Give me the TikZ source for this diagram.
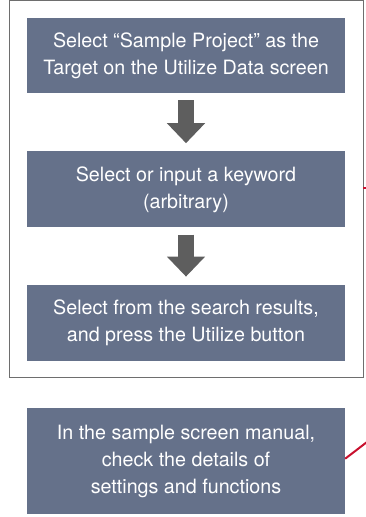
\documentclass[tikz,border=0pt]{standalone}
\usepackage{fontspec}
\setmainfont{TeX Gyre Heros}
\usetikzlibrary{positioning,arrows.meta}
\definecolor{boxblue}{HTML}{65718A}
\definecolor{arrowgray}{HTML}{5E5E5E}
\definecolor{framegray}{HTML}{6E6E6E}
\definecolor{linkred}{HTML}{C8102E}

\begin{document}
\begin{tikzpicture}[x=1pt, y=-1pt,
  every node/.style={font=\fontsize{19.7}{27}\selectfont},
  stepbox/.style={fill=boxblue, text=white, minimum width=318pt, minimum height=76pt, align=center, inner sep=0pt},
  flow/.style={draw=arrowgray, line width=16pt, -{Triangle[width=37pt,length=20pt]}, shorten <=7pt, shorten >=8pt},
  link/.style={draw=linkred, line width=2pt}]
\useasboundingbox (0,0) rectangle (366,517);
\node (b1) [stepbox, minimum height=75pt] at (186,55.5) {Select “Sample Project” as the\\Target on the Utilize Data screen};
\node (b2) [stepbox, below=58pt of b1] {Select or input a keyword\\(arbitrary)};
\node (b3) [stepbox, below=57pt of b2] {Select from the search results,\\and press the Utilize button};
\node (b4) [stepbox, minimum height=106pt, below=47pt of b3] {In the sample screen manual,\\check the details of\\settings and functions};
\draw[framegray, line width=1pt] (9,0.5) rectangle (363,377.5);
\draw[flow] (b1) -- (b2);
\draw[flow] (b2) -- (b3);
% links running off to the right
\coordinate (rs) at (363,188);
\coordinate (r1) at (367,188);
\coordinate (r2) at (367,442);
\draw[link] (rs) -- (r1);
\draw[link] ([yshift=2.5pt]b4.east) -- (r2);
\end{tikzpicture}
\end{document}
